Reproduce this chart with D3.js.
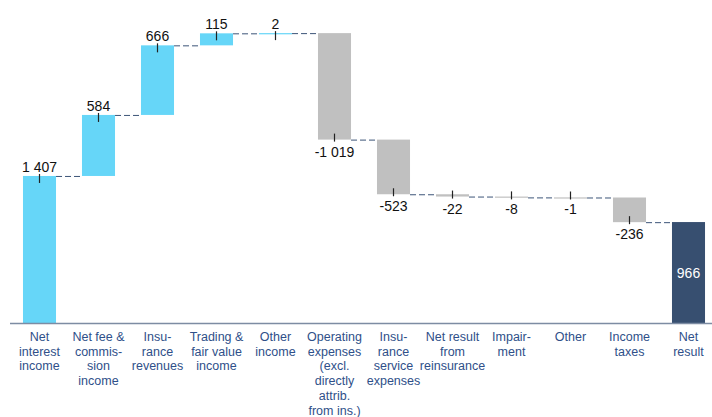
<!DOCTYPE html>
<html>
<head>
<meta charset="utf-8">
<script src="https://cdn.jsdelivr.net/npm/d3@7"></script>
<style>
  body { margin: 0; background: #fff; }
  svg { display: block; font-family: "Liberation Sans", Arial, sans-serif; }
</style>
</head>
<body>
<div id="chart"></div>
<script>
const categories = [
  "Net\ninterest\nincome",
  "Net fee &\ncommis-\nsion\nincome",
  "Insu-\nrance\nrevenues",
  "Trading &\nfair value\nincome",
  "Other\nincome",
  "Operating\nexpenses\n(excl.\ndirectly\nattrib.\nfrom ins.)",
  "Insu-\nrance\nservice\nexpenses",
  "Net result\nfrom\nreinsurance",
  "Impair-\nment",
  "Other",
  "Income\ntaxes",
  "Net\nresult"
];
const values = [1407, 584, 666, 115, 2, -1019, -523, -22, -8, -1, -236, 966];
const valueLabels = ["1 407", "584", "666", "115", "2", "-1 019", "-523", "-22", "-8", "-1", "-236", "966"];
const isTotal = [false, false, false, false, false, false, false, false, false, false, false, true];

const width = 712, height = 417;
const baseY = 323;

const svg = d3.select("#chart").append("svg")
  .attr("width", width)
  .attr("height", height);

const x = d3.scaleBand()
  .domain(d3.range(categories.length))
  .range([10, 718])
  .paddingInner(0.44)
  .paddingOuter(0.22);

const y = d3.scaleLinear()
  .domain([0, 3000])
  .range([baseY, baseY - 313.5]);

// running totals
let run = 0;
const bars = values.map((v, i) => {
  let start, end;
  if (isTotal[i]) { start = 0; end = v; run = v; }
  else { start = run; end = run + v; run = end; }
  return { i, v, start, end, label: valueLabels[i], total: isTotal[i] };
});

// connectors
const conn = svg.append("g");
for (let i = 0; i < bars.length - 1; i++) {
  const lvl = bars[i].end;
  conn.append("line")
    .attr("x1", x(i) + x.bandwidth())
    .attr("x2", x(i + 1))
    .attr("y1", y(lvl) + 0.5)
    .attr("y2", y(lvl) + 0.5)
    .attr("stroke", "#3c5478")
    .attr("stroke-width", 1)
    .attr("stroke-dasharray", "6,3");
}

// bars
svg.append("g").selectAll("rect")
  .data(bars)
  .join("rect")
  .attr("x", d => x(d.i))
  .attr("width", x.bandwidth())
  .attr("y", d => y(Math.max(d.start, d.end)))
  .attr("height", d => Math.max(1.2, Math.abs(y(d.start) - y(d.end))))
  .attr("fill", d => d.total ? "#374f70" : (d.v >= 0 ? "#66d6f8" : "#c0c0c0"));

// ticks + value labels
const lab = svg.append("g");
bars.forEach(d => {
  const cx = x(d.i) + x.bandwidth() / 2;
  if (d.total) {
    lab.append("text")
      .attr("x", cx)
      .attr("y", (y(d.start) + y(d.end)) / 2 + 5)
      .attr("text-anchor", "middle")
      .attr("font-size", 14)
      .attr("fill", "#fff")
      .text(d.label);
    return;
  }
  if (d.v >= 0) {
    const top = y(d.end);
    lab.append("line")
      .attr("x1", cx).attr("x2", cx)
      .attr("y1", top - 2).attr("y2", top + 7)
      .attr("stroke", "#222").attr("stroke-width", 1.2);
    lab.append("text")
      .attr("x", cx)
      .attr("y", top - 4)
      .attr("text-anchor", "middle")
      .attr("font-size", 14)
      .attr("fill", "#111")
      .text(d.label);
  } else {
    const bot = y(d.end);
    lab.append("line")
      .attr("x1", cx).attr("x2", cx)
      .attr("y1", bot - 6).attr("y2", bot + 2)
      .attr("stroke", "#222").attr("stroke-width", 1.2);
    lab.append("text")
      .attr("x", cx)
      .attr("y", bot + 17)
      .attr("text-anchor", "middle")
      .attr("font-size", 14)
      .attr("fill", "#111")
      .text(d.label);
  }
});

// baseline
svg.append("line")
  .attr("x1", 10).attr("x2", width)
  .attr("y1", baseY + 0.5).attr("y2", baseY + 0.5)
  .attr("stroke", "#7d8ca3")
  .attr("stroke-width", 1.5);

// category labels
const cat = svg.append("g");
categories.forEach((c, i) => {
  const t = cat.append("text")
    .attr("x", x(i) + x.bandwidth() / 2)
    .attr("y", 341)
    .attr("text-anchor", "middle")
    .attr("font-size", 12.5)
    .attr("fill", "#2f5089");
  c.split("\n").forEach((line, k) => {
    t.append("tspan")
      .attr("x", x(i) + x.bandwidth() / 2)
      .attr("dy", k === 0 ? 0 : 14.7)
      .text(line);
  });
});
</script>
</body>
</html>
